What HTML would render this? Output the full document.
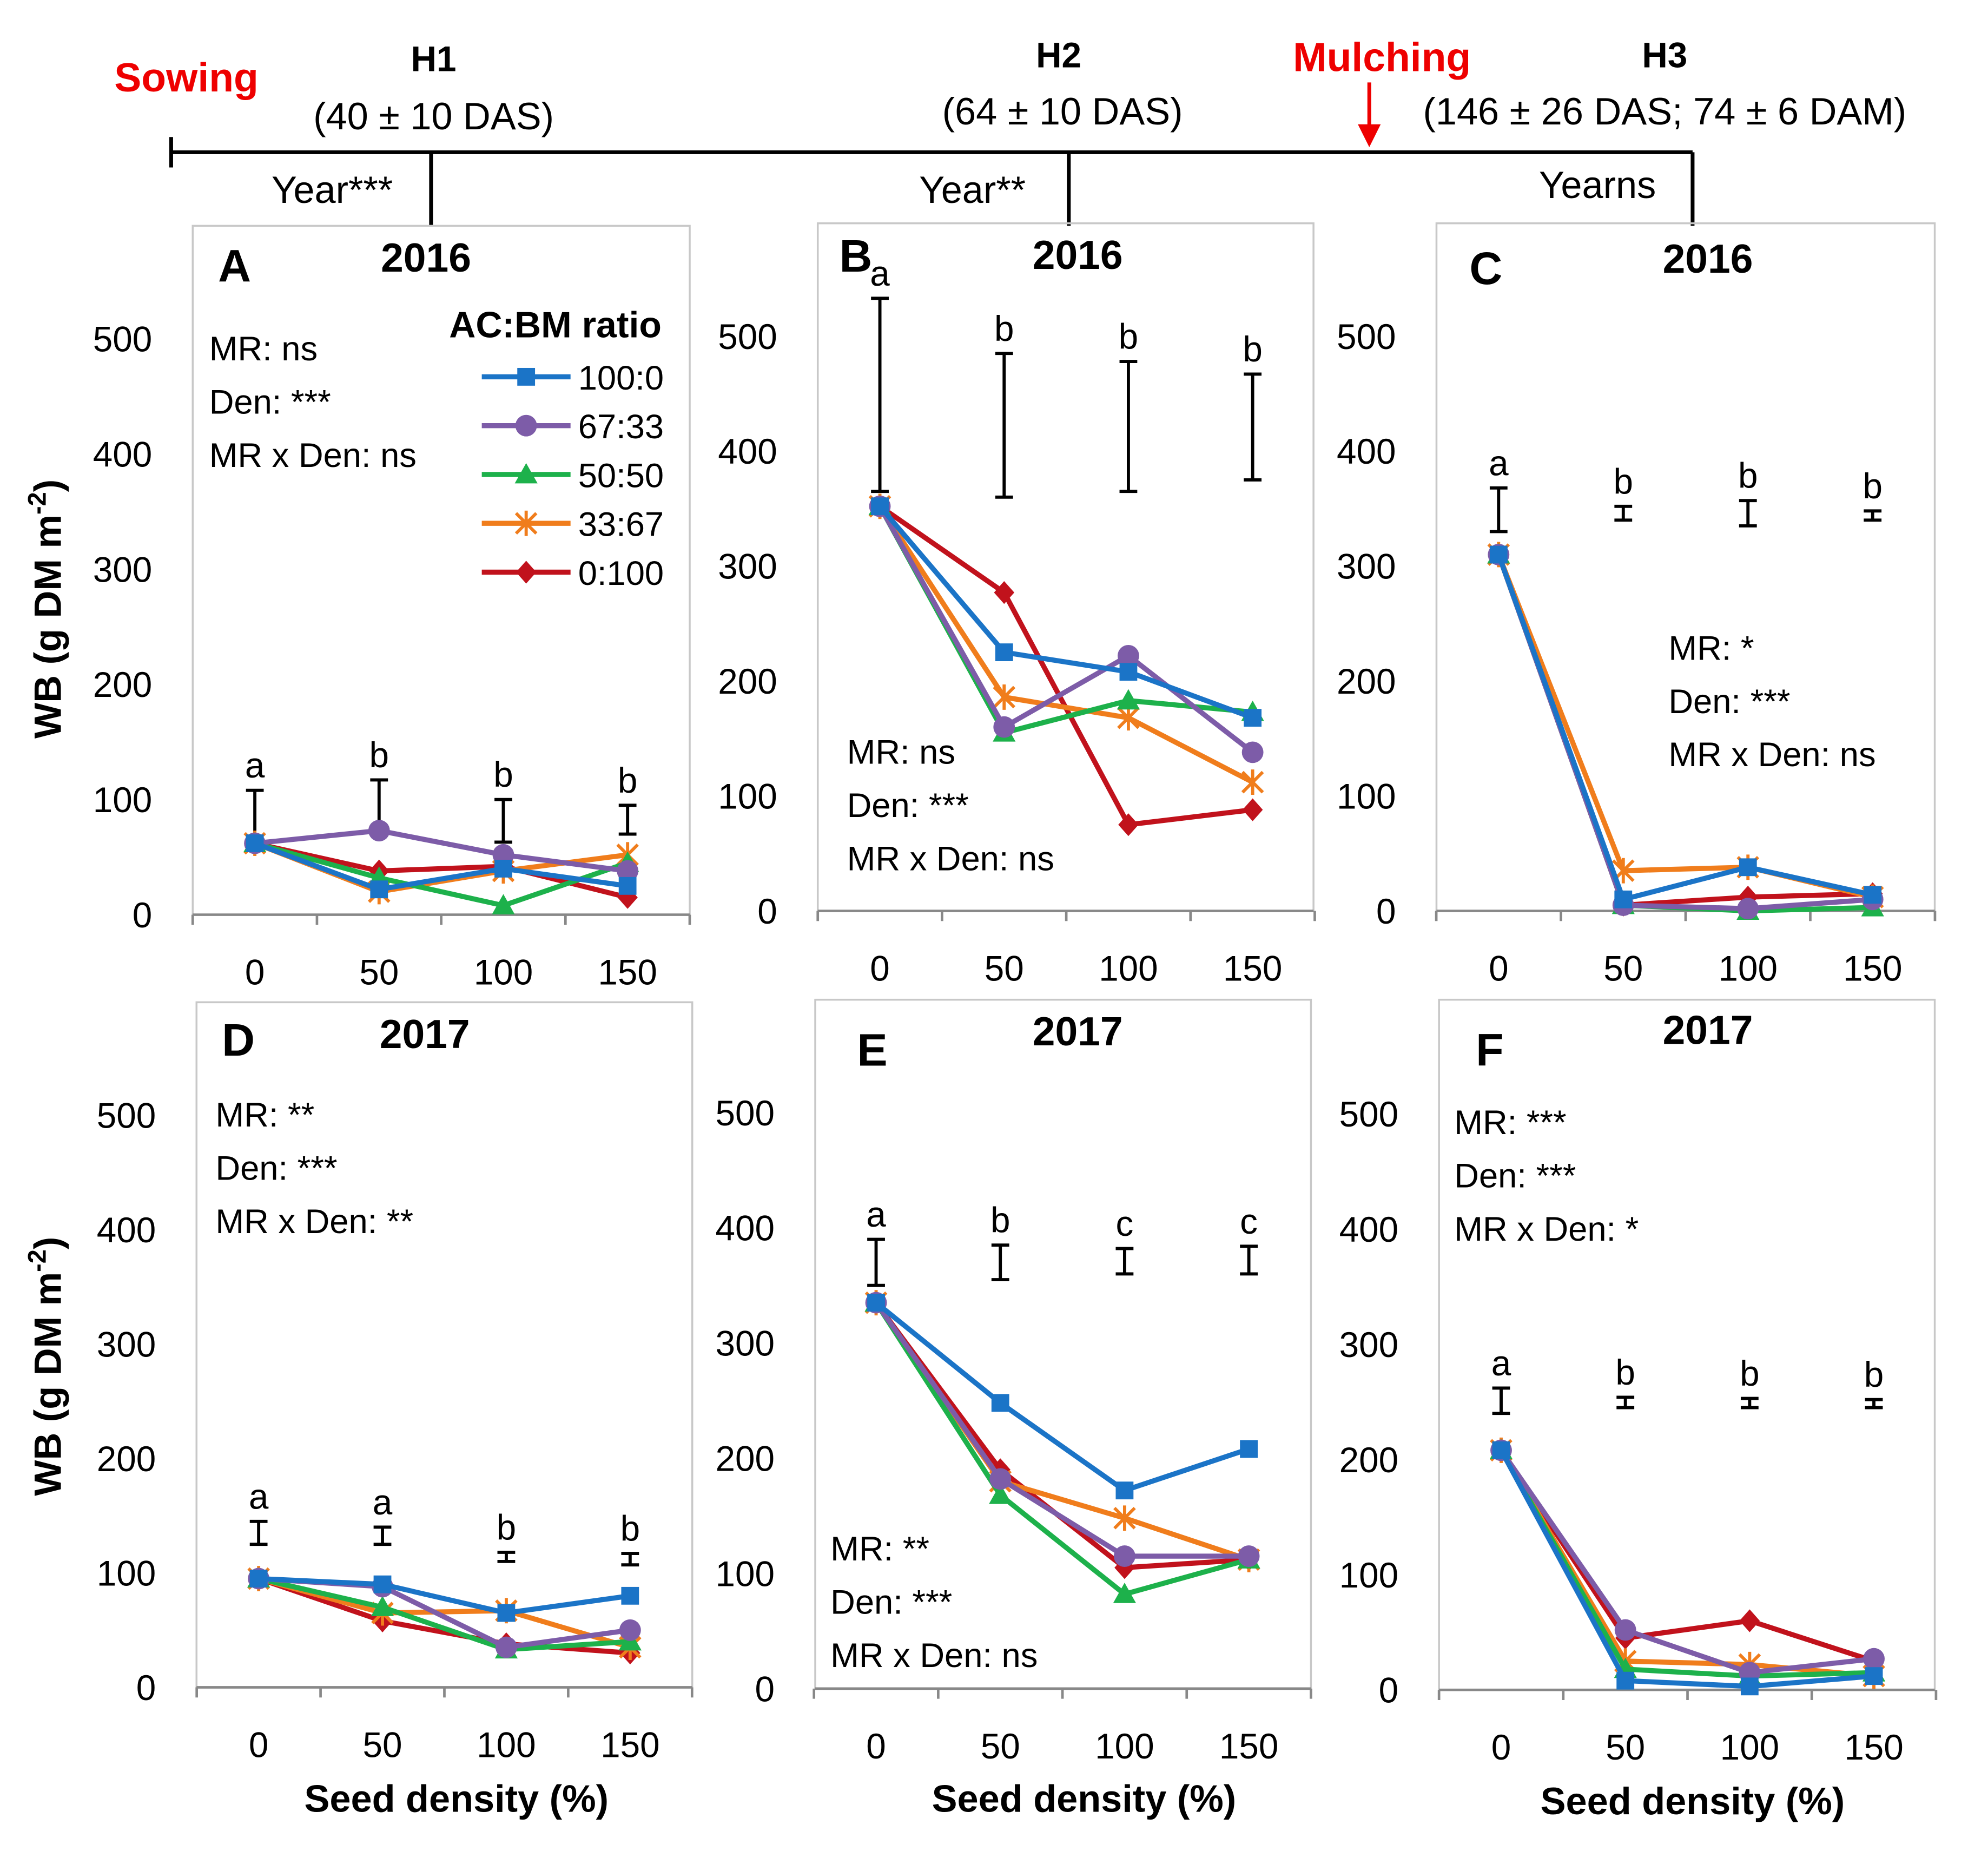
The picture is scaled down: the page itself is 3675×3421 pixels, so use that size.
<!DOCTYPE html>
<html><head><meta charset="utf-8"><style>
html,body{margin:0;padding:0;background:#fff}
svg{display:block}
text{font-family:"Liberation Sans",sans-serif;fill:#000}
</style></head><body>
<svg id="chart" width="3675" height="3421" viewBox="0 0 1568 1459" preserveAspectRatio="none" xmlns="http://www.w3.org/2000/svg">
<g id="timeline">
<line x1="135" y1="120" x2="1335" y2="120" stroke="#000" stroke-width="3"/>
<line x1="135" y1="108" x2="135" y2="132" stroke="#000" stroke-width="3"/>
<line x1="340" y1="120" x2="340" y2="178" stroke="#000" stroke-width="3"/>
<line x1="843" y1="120" x2="843" y2="178" stroke="#000" stroke-width="3"/>
<line x1="1335" y1="120" x2="1335" y2="178" stroke="#000" stroke-width="3"/>
<line x1="1080" y1="65" x2="1080" y2="100" stroke="#e00" stroke-width="3"/>
<polygon points="1071,98 1089,98 1080,116" fill="#e00"/>
<text x="147" y="72" font-size="32" font-weight="bold" text-anchor="middle" style="fill:#e00">Sowing</text>
<text x="342" y="56" font-size="28" font-weight="bold" text-anchor="middle">H1</text>
<text x="342" y="102" font-size="30" text-anchor="middle">(40 ± 10 DAS)</text>
<text x="262" y="160" font-size="30" text-anchor="middle">Year***</text>
<text x="835" y="53" font-size="28" font-weight="bold" text-anchor="middle">H2</text>
<text x="838" y="98" font-size="30" text-anchor="middle">(64 ± 10 DAS)</text>
<text x="767" y="160" font-size="30" text-anchor="middle">Year**</text>
<text x="1090" y="56" font-size="32" font-weight="bold" text-anchor="middle" style="fill:#e00">Mulching</text>
<text x="1313" y="53" font-size="28" font-weight="bold" text-anchor="middle">H3</text>
<text x="1313" y="98" font-size="30" text-anchor="middle">(146 ± 26 DAS; 74 ± 6 DAM)</text>
<text x="1260" y="156" font-size="30" text-anchor="middle">Yearns</text>
</g>
<text transform="translate(48,480) rotate(-90)" font-size="30" font-weight="bold" text-anchor="middle">WB (g DM m<tspan font-size="20" dy="-12">-2</tspan><tspan dy="12">)</tspan></text>
<text transform="translate(48,1077) rotate(-90)" font-size="30" font-weight="bold" text-anchor="middle">WB (g DM m<tspan font-size="20" dy="-12">-2</tspan><tspan dy="12">)</tspan></text>
<text x="360" y="1428" font-size="30" font-weight="bold" text-anchor="middle">Seed density (%)</text>
<text x="855" y="1428" font-size="30" font-weight="bold" text-anchor="middle">Seed density (%)</text>
<text x="1335" y="1430" font-size="30" font-weight="bold" text-anchor="middle">Seed density (%)</text>
</svg>
<script>
const densities = [0, 50, 100, 150];
const yTicks = [0, 100, 200, 300, 400, 500];
const seriesNames = ["100:0", "67:33", "50:50", "33:67", "0:100"];
const seriesColors = ["#1b74c7", "#7d5ca8", "#1db14b", "#f07d1c", "#c1121c"];
const panelA = [[62,22,40,25],[62,73,52,38],[62,32,8,45],[62,20,38,52],[62,38,42,15]];
const panelB = [[352,225,208,168],[352,160,222,138],[352,155,183,173],[352,186,168,112],[352,277,75,88]];
const panelC = [[310,10,38,14],[310,5,2,10],[310,5,0,3],[310,35,38,12],[310,5,12,15]];
const panelD = [[95,90,65,80],[95,88,35,50],[95,70,33,40],[95,65,67,35],[95,58,38,30]];
const panelE = [[335,248,172,208],[335,182,115,115],[335,168,82,112],[335,180,148,112],[335,190,105,112]];
const panelF = [[208,8,3,12],[208,52,15,27],[208,18,12,15],[208,25,22,12],[208,45,60,25]];
const errLowA = [68,73,63,70], errHighA = [108,117,100,95], lettersA = ["a","b","b","b"];
const errLowB = [365,360,365,375], errHighB = [533,485,478,467], lettersB = ["a","b","b","b"];
const errLowC = [330,340,335,340], errHighC = [368,352,357,348], lettersC = ["a","b","b","b"];
const errLowD = [125,125,110,107], errHighD = [145,140,118,117], lettersD = ["a","a","b","b"];
const errLowE = [350,355,360,360], errHighE = [390,385,382,384], lettersE = ["a","b","c","c"];
const errLowF = [240,245,245,245], errHighF = [262,254,253,252], lettersF = ["a","b","b","b"];
const statsA = ["MR: ns","Den: ***","MR x Den: ns"];
const statsB = ["MR: ns","Den: ***","MR x Den: ns"];
const statsC = ["MR: *","Den: ***","MR x Den: ns"];
const statsD = ["MR: **","Den: ***","MR x Den: **"];
const statsE = ["MR: **","Den: ***","MR x Den: ns"];
const statsF = ["MR: ***","Den: ***","MR x Den: *"];

const NS = "http://www.w3.org/2000/svg";
const svg = document.getElementById("chart");
function mk(tag, attrs, parent) {
  const e = document.createElementNS(NS, tag);
  for (const k in attrs) e.setAttribute(k, attrs[k]);
  (parent || svg).appendChild(e);
  return e;
}
const panels = [
 {id:"a",L:"A",yr:"2016",bx:152,bt:178,br:544,y0:721,y5:267,x0:201,x1:495,data:panelA,lo:errLowA,hi:errHighA,let:lettersA,st:statsA,sx:165,sy:284,lx:185,ly:222,yx:336,yy:214},
 {id:"b",L:"B",yr:"2016",bx:645,bt:176,br:1036,y0:718,y5:265,x0:694,x1:988,data:panelB,lo:errLowB,hi:errHighB,let:lettersB,st:statsB,sx:668,sy:602,lx:675,ly:214,yx:850,yy:212},
 {id:"c",L:"C",yr:"2016",bx:1133,bt:176,br:1526,y0:718,y5:265,x0:1182,x1:1477,data:panelC,lo:errLowC,hi:errHighC,let:lettersC,st:statsC,sx:1316,sy:520,lx:1172,ly:224,yx:1347,yy:215},
 {id:"d",L:"D",yr:"2017",bx:155,bt:790,br:546,y0:1330,y5:879,x0:204,x1:497,data:panelD,lo:errLowD,hi:errHighD,let:lettersD,st:statsD,sx:170,sy:888,lx:188,ly:832,yx:335,yy:826},
 {id:"e",L:"E",yr:"2017",bx:643,bt:788,br:1034,y0:1331,y5:877,x0:691,x1:985,data:panelE,lo:errLowE,hi:errHighE,let:lettersE,st:statsE,sx:655,sy:1230,lx:688,ly:840,yx:850,yy:824},
 {id:"f",L:"F",yr:"2017",bx:1135,bt:788,br:1526,y0:1332,y5:878,x0:1184,x1:1478,data:panelF,lo:errLowF,hi:errHighF,let:lettersF,st:statsF,sx:1147,sy:894,lx:1175,ly:840,yx:1347,yy:823}
];
function marker(g, k, x, y, c) {
  if (k===0) mk("rect",{x:x-7,y:y-7,width:14,height:14,fill:c},g);
  else if (k===1) mk("circle",{cx:x,cy:y,r:8.5,fill:c},g);
  else if (k===2) mk("polygon",{points:`${x},${y-9} ${x+9},${y+7} ${x-9},${y+7}`,fill:c},g);
  else if (k===3) { mk("path",{d:`M${x-8},${y-8}L${x+8},${y+8}M${x-8},${y+8}L${x+8},${y-8}M${x},${y-10}V${y+10}`,stroke:c,"stroke-width":2.5},g); }
  else mk("polygon",{points:`${x},${y-9} ${x+8},${y} ${x},${y+9} ${x-8},${y}`,fill:c},g);
}
panels.forEach(p => {
  const g = mk("g",{});
  
  
  const Y = v => p.y0 + (p.y5 - p.y0) * v / 500;
  const X = v => p.x0 + (p.x1 - p.x0) * v / 150;
  mk("rect",{x:p.bx,y:p.bt,width:p.br-p.bx,height:p.y0-p.bt,fill:"none",stroke:"#c8c8c8","stroke-width":1.5},g);
  mk("line",{x1:p.bx,y1:p.y0,x2:p.br,y2:p.y0,stroke:"#888","stroke-width":2},g);
  [-25,25,75,125,175].forEach(v => mk("line",{x1:X(v),y1:p.y0,x2:X(v),y2:p.y0+8,stroke:"#888","stroke-width":2},g));
  yTicks.forEach(v => {
    const t = mk("text",{x:p.bx-32,y:Y(v)+10,"font-size":28,"text-anchor":"end"},g);
    
    
    t.textContent = v;
  });
  densities.forEach(v => {
    const t = mk("text",{x:X(v),y:p.y0+55,"font-size":28,"text-anchor":"middle"},g);
    
    
    t.textContent = v;
  });
  const lt = mk("text",{x:p.lx,y:p.ly,"font-size":36,"font-weight":"bold","text-anchor":"middle"},g);
  
  
  lt.textContent = p.L;
  const yt = mk("text",{x:p.yx,y:p.yy,"font-size":32,"font-weight":"bold","text-anchor":"middle"},g);
  
  
  yt.textContent = p.yr;
  p.st.forEach((s,i) => {
    const t = mk("text",{x:p.sx,y:p.sy+i*42,"font-size":27},g);
    
    
    t.textContent = s;
  });
  densities.forEach((d,i) => {
    const x = X(d), a = Y(p.lo[i]), b = Y(p.hi[i]);
    const e = mk("path",{d:`M${x},${a}V${b}M${x-7},${a}H${x+7}M${x-7},${b}H${x+7}`,stroke:"#000","stroke-width":2.5,fill:"none"},g);
    
    
    const t = mk("text",{x:x,y:b-10,"font-size":28,"text-anchor":"middle"},g);
    
    
    t.textContent = p.let[i];
  });
  for (let k = 4; k >= 0; k--) {
    const sg = mk("g",{},g);
    
    
    const pts = p.data[k].map((v,i) => X(densities[i]) + "," + Y(v)).join(" ");
    mk("polyline",{points:pts,fill:"none",stroke:seriesColors[k],"stroke-width":4},sg);
    p.data[k].forEach((v,i) => marker(sg,k,X(densities[i]),Y(v),seriesColors[k]));
  }
});
const lg = mk("g",{});


const lt = mk("text",{x:438,y:266,"font-size":29,"font-weight":"bold","text-anchor":"middle"},lg);
lt.textContent = "AC:BM ratio";
seriesNames.forEach((n,k) => {
  const y = 297 + k*38.5;
  const eg = mk("g",{},lg);
  
  
  mk("line",{x1:380,y1:y,x2:450,y2:y,stroke:seriesColors[k],"stroke-width":4},eg);
  marker(eg,k,415,y,seriesColors[k]);
  const t = mk("text",{x:456,y:y+10,"font-size":27},eg);
  t.textContent = n;
});
</script>
</body></html>
